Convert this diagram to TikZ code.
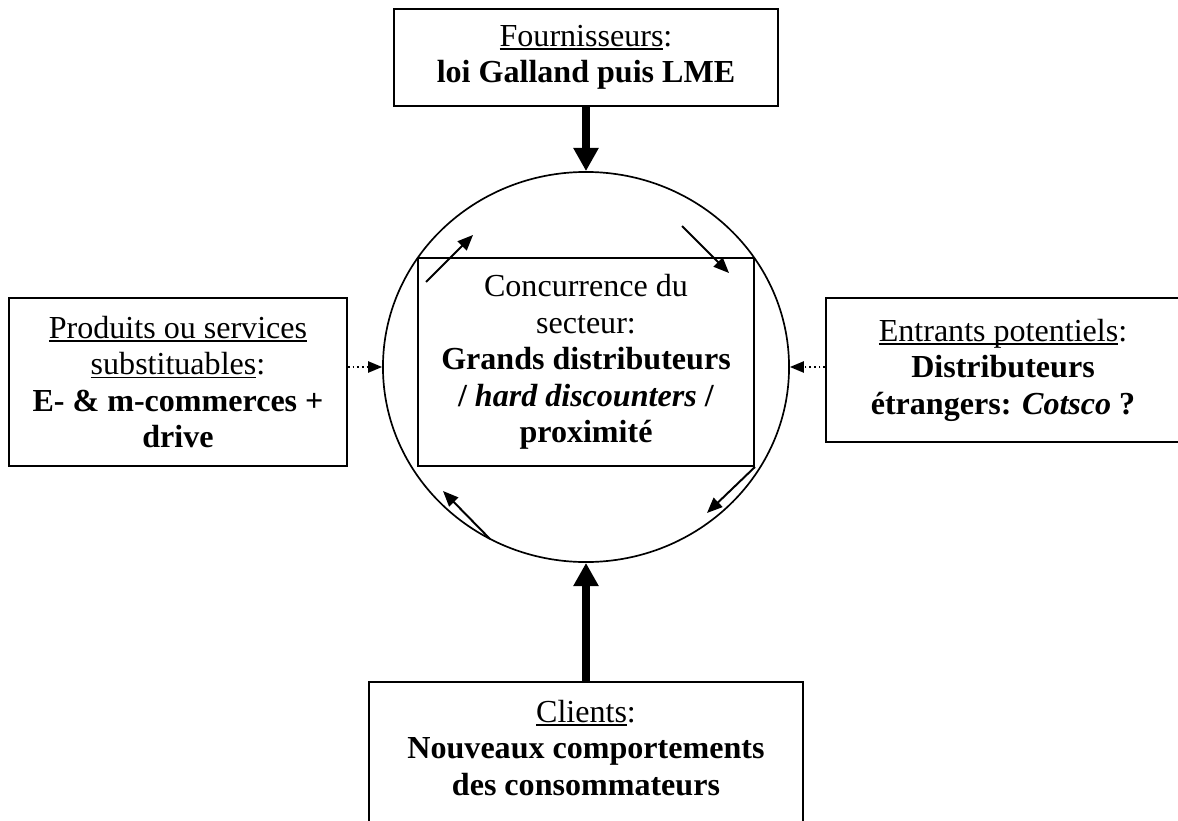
\documentclass[tikz,border=0pt]{standalone}
\usepackage{fontspec}
\setmainfont{Liberation Serif}
\usetikzlibrary{arrows.meta,shapes.geometric}
\newsavebox{\soulbox}
\newcommand{\souligne}[1]{\sbox{\soulbox}{#1}\rlap{\rule[-2.6pt]{\wd\soulbox}{1.2pt}}\usebox{\soulbox}}

\begin{document}
\begin{tikzpicture}[x=0.025cm,y=-0.025cm,
    boite/.style={draw,line width=1.3pt,align=center,inner sep=0pt,font=\fontsize{22.8}{26}\selectfont},
    fort/.style={line width=5pt,-{Triangle[length=16.5pt,width=17pt]}},
    pointille/.style={dotted,line width=1.3pt,-{Triangle[length=10pt,width=8pt]}},
    tour/.style={line width=1.4pt,-{Triangle[length=11pt,width=9pt]}}]
                \useasboundingbox (0,0) rectangle (1178,821);
                \node[draw,ellipse,line width=1.2pt,inner sep=0pt,minimum width=10.15cm,minimum height=9.75cm] (secteur) at (586,367){};
                \node[boite,minimum width=9.6cm,minimum height=2.425cm] (fourn) at (586,57.5){\souligne{Fournisseurs}:\\\textbf{loi Galland puis LME}};
                \node[boite,minimum width=8.4cm,minimum height=5.2cm] (concur) at (586,362){Concurrence du\\secteur:\\\textbf{Grands distributeurs}\\\textbf{/ \textit{hard discounters} /}\\\textbf{proximité}};
                \node[boite,minimum width=8.45cm,minimum height=4.2cm] (subst) at (178,382){\souligne{Produits ou services}\\\souligne{substituables}:\\\textbf{E- \& m-commerces +}\\\textbf{drive}};
                \node[boite,minimum width=8.85cm,minimum height=3.6cm] (entr) at (1003,370){\souligne{Entrants potentiels}:\\\textbf{Distributeurs}\\\textbf{étrangers: \textit{Cotsco} ?}};
                \node[boite,minimum width=10.85cm,minimum height=4.2cm] (clients) at (586,766){\souligne{Clients}:\\\textbf{Nouveaux comportements}\\\textbf{des consommateurs}\\\mbox{}};
                \draw[fort] (fourn.south) -- (secteur.north);
                \draw[fort] (clients.north) -- (secteur.south);
                \draw[pointille] (subst.east |- secteur.west) -- (secteur.west);
                \draw[pointille] (entr.west |- secteur.east) -- (secteur.east);
                \draw[tour] (426,282) -- (473,235);
                \draw[tour] (682,226) -- (729,273);
                \draw[tour] (concur.south east) -- (707,513);
                \draw[tour] (490,539) -- (443,491);
            \end{tikzpicture}
\end{document}
